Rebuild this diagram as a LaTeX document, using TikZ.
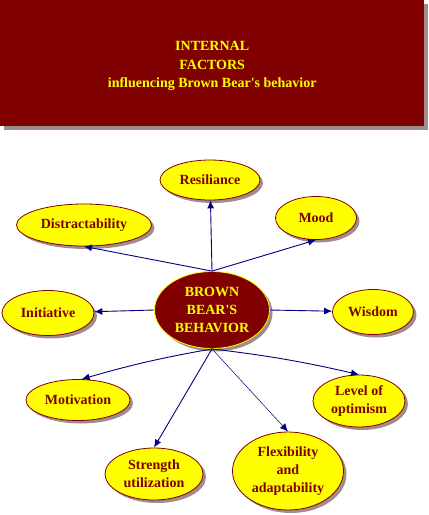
\documentclass[tikz,border=0pt]{standalone}
\usepackage{fontspec}
\setmainfont{Liberation Serif}
\usetikzlibrary{shapes.geometric,arrows.meta,shadows}
\definecolor{maroon}{HTML}{800000}
\definecolor{lemon}{HTML}{FFFF00}
\definecolor{navyline}{HTML}{000080}
\definecolor{shade}{HTML}{A08C8C}
\tikzset{
  bubble/.style={ellipse, draw=maroon, fill=lemon, text=maroon, font=\bfseries\fontsize{14}{18}\selectfont,
    align=center, inner sep=0pt, line width=0.8pt,
    drop shadow={shadow xshift=3pt, shadow yshift=-3pt, fill=shade, opacity=1}},
  hub/.style={ellipse, draw=lemon, fill=maroon, text=lemon, font=\bfseries\fontsize{14}{18}\selectfont,
    align=center, inner sep=0pt, line width=0.8pt,
    drop shadow={shadow xshift=3pt, shadow yshift=-3pt, fill=shade, opacity=1}},
  link/.style={draw=navyline, line width=0.9pt, -{Latex[length=8pt,width=7pt]}}
}
\begin{document}
\begin{tikzpicture}[x=1pt, y=-1pt]
    \useasboundingbox (0,0) rectangle (429,515);

    % Title banner
    \node[rectangle, fill=maroon, minimum width=424pt, minimum height=126pt, anchor=north west,
      drop shadow={shadow xshift=4pt, shadow yshift=-4pt, fill=shade, opacity=1}]
      (banner) at (0,0) {};
    \node[text=lemon, font=\bfseries\fontsize{14}{18.5}\selectfont, align=center]
      (title) at ([yshift=-3pt]banner.center) {INTERNAL\\FACTORS\\influencing Brown Bear\textquotesingle s behavior};

    % Central node
    \node[hub, minimum width=115pt, minimum height=77pt] (bear) at (212,310) {BROWN\\BEAR\textquotesingle S\\BEHAVIOR};

    % Factors
    \node[bubble, minimum width=100pt, minimum height=40pt] (res) at (210,180) {Resiliance};
    \node[bubble, minimum width=135pt, minimum height=42pt] (dis) at (84,225) {Distractability};
    \node[bubble, minimum width=81pt, minimum height=43pt] (mood) at (316,218) {Mood};
    \node[bubble, minimum width=92pt, minimum height=45pt] (init) at (48,313) {Initiative};
    \node[bubble, minimum width=81pt, minimum height=45pt] (wis) at (373,312) {Wisdom};
    \node[bubble, minimum width=104pt, minimum height=41pt] (mot) at (78,400) {Motivation};
    \node[bubble, minimum width=92pt, minimum height=52pt] (lev) at (359,401) {Level of\\optimism};
    \node[bubble, minimum width=98pt, minimum height=52pt] (str) at (154,474) {Strength\\utilization};
    \node[bubble, minimum width=111pt, minimum height=78pt] (flex) at (288,471) {Flexibility\\and\\adaptability};

    % Connectors
    \draw[link] (bear.north) -- (res);
    \draw[link] (bear.north) -- (dis.south);
    \draw[link] (bear.north) -- (mood.south);
    \draw[link] (bear.west) -- (init);
    \draw[link] (bear.east) -- (wis);
    \draw[link] (bear.south) to[bend right=3] (mot.80);
    \draw[link] (bear.south) to[bend left=3] (lev.north);
    \draw[link] (bear.south) -- (str.north);
    \draw[link, line width=0.5pt] (bear.south) -- (flex.north);
\end{tikzpicture}
\end{document}
